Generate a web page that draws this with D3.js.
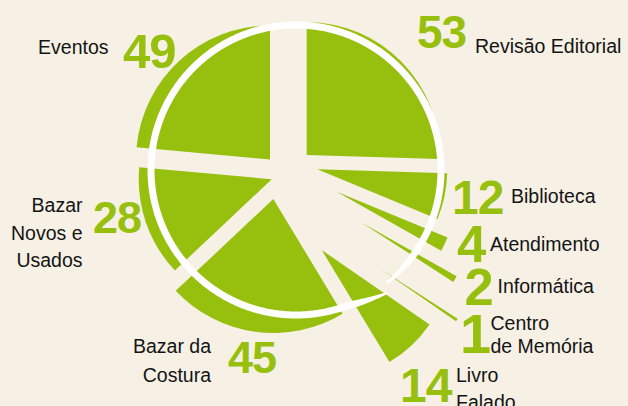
<!DOCTYPE html>
<html>
<head>
<meta charset="utf-8">
<script src="https://cdn.jsdelivr.net/npm/d3@7"></script>
<style>
  html, body { margin: 0; padding: 0; background: #f6f0e5; }
  svg { display: block; }
  .num { font-family: "Liberation Sans", Arial, sans-serif; font-weight: bold; fill: #97bf0d; letter-spacing: -1px; }
  .lbl { font-family: "Liberation Sans", Arial, sans-serif; font-size: 19.5px; fill: #141414; }
</style>
</head>
<body>
<svg id="chart" width="628" height="406"></svg>
<script>
// Data
const categories = ["Revisão Editorial", "Biblioteca", "Atendimento", "Informática",
    "Centro\nde Memória", "Livro\nFalado", "Bazar da\nCostura", "Bazar\nNovos e\nUsados", "Eventos"];
const values = [53, 12, 4, 2, 1, 14, 45, 28, 49];

// Layout (hand-placed like the original infographic)
const center = [296, 170];
// slice apex offset from center + outer radius
const sliceShift = [[10.7, -15], [21.3, -0.7], [40.7, 21.7], [65.7, 52.7], [86, 100],
    [25.7, 80], [-22.7, 29], [-24.3, 9.3], [-26, -10.5]];
const sliceRadius = [133, 130, 120, 109, 90, 131, 134, 133, 134];
// number: x, baseline, font size ; label: anchor, x, first baseline, line step
const numPos = [[417, 47.7, 46], [452, 214.3, 48], [457, 261.7, 52.6], [464.5, 305, 52.6],
    [460, 353.3, 56], [400, 401.7, 48], [228, 373.3, 45], [93, 233.3, 45], [123, 68.3, 49]];
const lblPos = [["start", 475, 53.3, 28], ["start", 511, 203.3, 28], ["start", 490, 251, 28],
    ["start", 497.5, 292.7, 28], ["start", 490.5, 330, 23.3], ["start", 456, 381.7, 27.5],
    ["end", 211, 353.3, 28.4], ["end", 82.5, 211.7, 27.8], ["end", 108.5, 54, 28]];

const green = "#97bf0d";
const svg = d3.select("#chart");

const pie = d3.pie().sort(null).value(d => d)(values);
const arc = d3.arc().innerRadius(0);

const g = svg.append("g").attr("transform", `translate(${center})`);

g.selectAll("path.slice")
    .data(pie)
    .enter().append("path")
    .attr("class", "slice")
    .attr("transform", (d, i) => `translate(${sliceShift[i]})`)
    .attr("d", (d, i) => arc.outerRadius(sliceRadius[i])(d))
    .attr("fill", green);

// white brush ring with a small opening near the small slices
const a0 = 143.5, a1 = 501;
const rad = a => a * Math.PI / 180;
const rMid = a => 145 + 8 * Math.pow(Math.max(0, 1 - (a - a0) / 18), 1.5);
const rW = a => 7 * Math.min(1, 0.3 + 0.7 * (a - a0) / 12, 0.35 + 0.65 * (a1 - a) / 14);
const ring = d3.areaRadial()
    .angle(a => rad(a))
    .innerRadius(a => rMid(a) - rW(a) / 2)
    .outerRadius(a => rMid(a) + rW(a) / 2)
    .curve(d3.curveLinear);
g.append("path")
    .attr("d", ring(d3.range(a0, a1 + 0.01, 0.5)))
    .attr("fill", "#ffffff");

// numbers
svg.selectAll("text.num")
    .data(values)
    .enter().append("text")
    .attr("class", "num")
    .attr("x", (d, i) => numPos[i][0])
    .attr("y", (d, i) => numPos[i][1])
    .style("font-size", (d, i) => numPos[i][2] + "px")
    .text(d => d);

// labels
const lbl = svg.selectAll("text.lbl")
    .data(categories)
    .enter().append("text")
    .attr("class", "lbl")
    .attr("text-anchor", (d, i) => lblPos[i][0])
    .attr("x", (d, i) => lblPos[i][1])
    .attr("y", (d, i) => lblPos[i][2]);

lbl.each(function (d, i) {
    d3.select(this).selectAll("tspan")
        .data(d.split("\n"))
        .enter().append("tspan")
        .attr("x", lblPos[i][1])
        .attr("dy", (s, j) => j ? lblPos[i][3] : 0)
        .text(s => s);
});
</script>
</body>
</html>
